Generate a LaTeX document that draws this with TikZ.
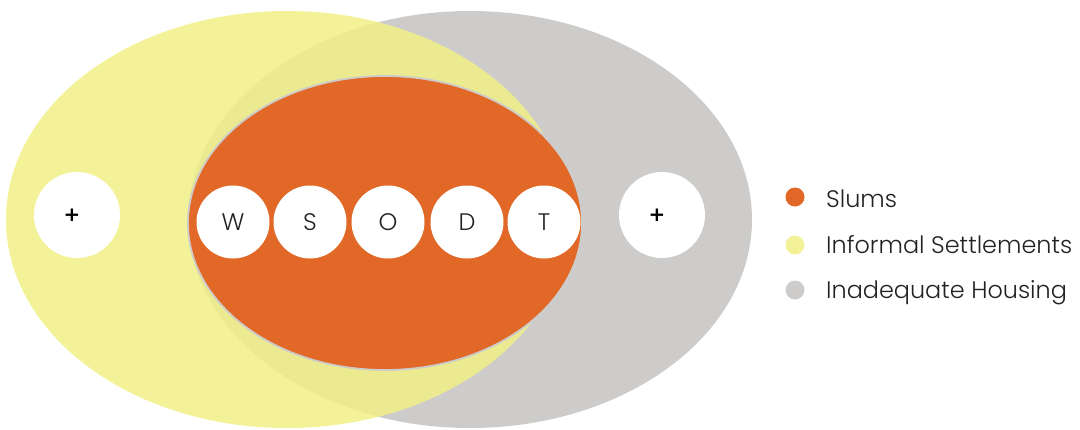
\documentclass[tikz,border=0pt]{standalone}
\usepackage{fontspec}
\setmainfont{Poppins Light}
\newfontfamily\plusfont{DejaVu Sans}
\usetikzlibrary{shapes.geometric}

\definecolor{slumcol}{HTML}{E16826}
\definecolor{infcol}{HTML}{F1F086}
\definecolor{infdot}{HTML}{F3F298}
\definecolor{inadcol}{HTML}{CDCCCB}
\definecolor{txtcol}{HTML}{222222}

\begin{document}
\begin{tikzpicture}[x=1bp, y=-1bp,
    letter/.style={circle, fill=white, minimum size=73bp, inner sep=0pt,
                   text=txtcol, font=\fontsize{24}{24}\selectfont},
    extra/.style={circle, fill=white, minimum size=86bp, inner sep=0pt},
    plussign/.style={inner sep=0pt, font=\plusfont\bfseries\fontsize{20}{20}\selectfont},
    legdot/.style={circle, minimum size=19bp, inner sep=0pt},
    legtext/.style={anchor=base west, inner sep=0pt, text=txtcol,
                    font=\fontsize{24}{24}\selectfont}]

\useasboundingbox (0,0) rectangle (1080,429);

% the three sets
\node (inad) at (470, 219.5) [ellipse, fill=inadcol, minimum width=564bp,
    minimum height=417bp, inner sep=0pt] {};
\node (inf) at (287, 219.5) [ellipse, fill=infcol, fill opacity=0.85,
    minimum width=562bp, minimum height=417bp, inner sep=0pt] {};
\node (slum) at (385, 223) [ellipse, fill=slumcol, draw=inadcol, line width=1.8bp,
    minimum width=394bp, minimum height=294bp, inner sep=0pt] {};

\begin{scope}
    \node (w) at (233, 222) [letter] {W};
    \node (s) at (310, 222) [letter] {S};
    \node (o) at (388, 222) [letter] {O};
    \node (d) at (467, 222) [letter] {D};
    \node (t) at (544, 222) [letter] {T};

    \node (extral) at (77, 215) [extra] {};
    \node (extrar) at (662, 215) [extra] {};
    \node (plusl) at ([xshift=-5bp]extral) [plussign] {+};
    \node (plusr) at ([xshift=-5bp]extrar) [plussign] {+};
\end{scope}

% legend
\begin{scope}
    \node (dslum) at (795, 197) [legdot, fill=slumcol] {};
    \node (dinf) at (795, 245) [legdot, fill=infdot] {};
    \node (dinad) at (795, 290) [legdot, fill=inadcol] {};

    \node (lslum) at (826, 207) [legtext] {Slums};
    \node (linf) at (826, 253) [legtext] {Informal Settlements};
    \node (linad) at (826, 298) [legtext] {Inadequate Housing};
\end{scope}
\end{tikzpicture}
\end{document}
